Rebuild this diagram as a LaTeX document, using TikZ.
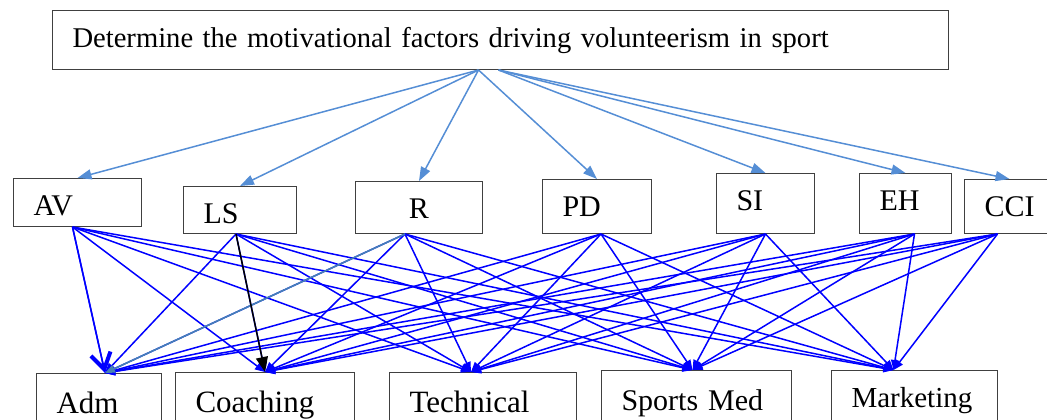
\documentclass[tikz,border=0pt]{standalone}
\usepackage{fontspec}
\setmainfont{Liberation Serif}
\usetikzlibrary{arrows.meta}
\definecolor{boxgray}{RGB}{64,64,64}
\definecolor{topblue}{RGB}{85,142,213}
\definecolor{linkblue}{RGB}{0,0,255}
\definecolor{steel}{RGB}{70,130,180}

\begin{document}
\begin{tikzpicture}[x=1pt,y=-1pt,
  aim/.style={draw=boxgray,line width=1pt,anchor=north west,align=left,
              inner xsep=20pt,inner ysep=0pt,text height=37pt,
              font=\fontsize{28.6}{34}\selectfont},
  fac/.style={aim,font=\fontsize{30}{35}\selectfont},
  dept/.style={aim,text height=40pt,text depth=30pt,font=\fontsize{31}{36}\selectfont},
  down/.style={-{Triangle[length=14pt,width=10pt]},topblue,line width=1.5pt},
  link/.style={-{Triangle[length=10pt,width=8pt]},linkblue,line width=1.5pt}
]
\path[use as bounding box] (0,0) rectangle (1047,420);
\clip (0,0) rectangle (1047,420);

% goal
\node[aim,text width=856pt,text depth=22pt] (goal) at (52,10)
  {Determine the motivational factors driving volunteerism in sport};
\coordinate (hubl) at ([xshift=-22]goal.south);
\coordinate (hubr) at ([xshift=-2]goal.south);

% motivational factors
\node[fac,text width=88pt,text depth=11pt] (av) at (13,178) {AV};
\node[fac,text width=73pt,text depth=10pt] (ls) at (183,186) {LS};
\node[fac,text width=87pt,text depth=15pt,align=center] (r) at (355,181) {R};
\node[fac,text width=69pt,text depth=17pt] (pd) at (542,179) {PD};
\node[fac,text width=58pt,text depth=23pt] (si) at (716,173) {SI};
\node[fac,text width=52pt,text depth=23pt] (eh) at (859,173) {EH};
\node[fac,text width=50pt,text depth=17pt] (cci) at (964,179) {CCI};

% areas of volunteering
\node[dept,text width=85pt] (adm) at (36,373) {Adm};
\node[dept,text width=139pt] (coach) at (175,372) {Coaching};
\node[dept,text width=147pt] (tech) at (389,372) {Technical};
\node[dept,text width=150pt,font=\fontsize{30}{35}\selectfont] (smed) at (601,370) {Sports Med};
\node[dept,text width=126pt,text height=37pt,font=\fontsize{29}{34}\selectfont] (mkt) at (831,370) {Marketing};

\foreach \f in {av,ls,r,pd}
  \draw[down] (hubl) -- (\f.north);
\foreach \f in {si,eh,cci}
  \draw[down] (hubr) -- (\f.north);

\foreach \f/\fx in {av/-5,ls/-4,r/-14,pd/4,si/0,eh/9,cci/-12}
  \foreach \t/\tx in {adm/6,coach/0,tech/-12,smed/-4,mkt/-21}
    \draw[link] ([xshift=\fx]\f.south) -- ([xshift=\tx]\t.north);

% odd ones
\draw[link,steel] ([xshift=-14]r.south) -- ([xshift=6]adm.north);
\draw[black,line width=1.5pt,-{Triangle[length=15pt,width=12pt]}] ([xshift=-4]ls.south) -- (coach.north);
\draw[link,-{Straight Barb[length=16pt,width=20pt,line width=4pt]}] ([xshift=-5]av.south) -- ([xshift=6]adm.north);
\end{tikzpicture}
\end{document}
